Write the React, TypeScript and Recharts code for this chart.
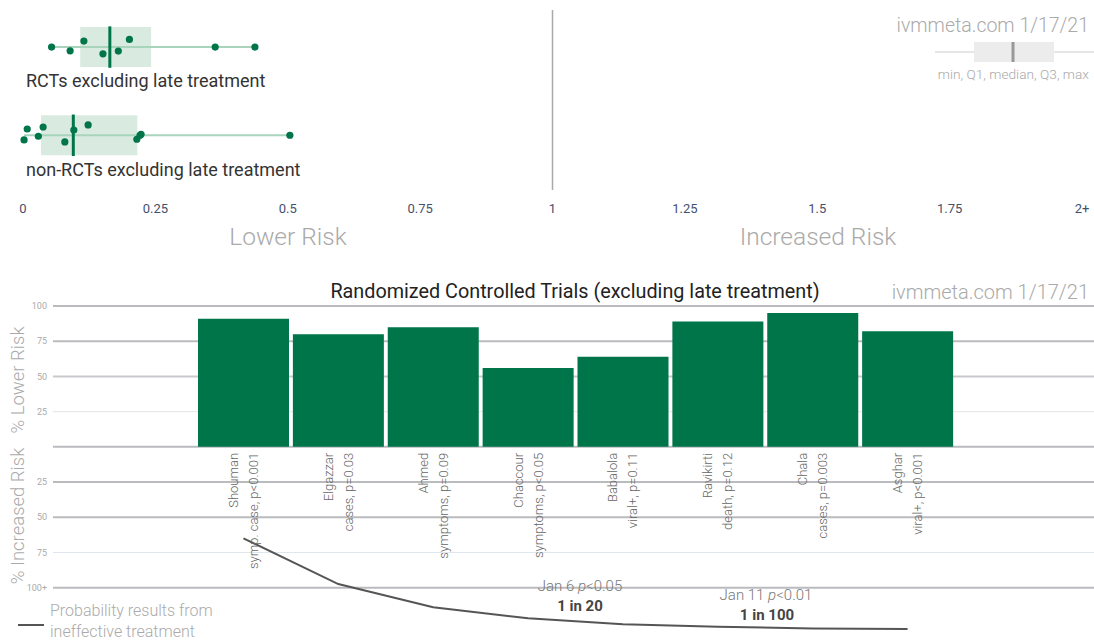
import {
  ScatterChart,
  Scatter,
  XAxis,
  YAxis,
  ReferenceArea,
  ReferenceLine,
  ComposedChart,
  Bar,
  Line,
  LabelList,
  CartesianGrid,
} from "recharts";

// top: distribution of results (relative risk)
const riskTicks = [0, 0.25, 0.5, 0.75, 1, 1.25, 1.5, 1.75, 2];
const rctValues = [0.054, 0.089, 0.115, 0.151, 0.18, 0.201, 0.363, 0.438];
const rctOffsets = [0, -0.042, 0.068, -0.076, -0.045, 0.087, 0, 0];
const nonRctValues = [0.008, 0.002, 0.029, 0.038, 0.079, 0.096, 0.123, 0.215, 0.221, 0.223, 0.504];
const nonRctOffsets = [0.071, -0.053, -0.011, 0.094, -0.076, 0.06, 0.117, -0.045, 0, 0.011, 0];
// min, Q1, median, Q3, max
const rctBox = [0.054, 0.108, 0.164, 0.242, 0.438];
const nonRctBox = [0.002, 0.034, 0.095, 0.216, 0.504];

// bottom: RCTs
const studies = ["Shouman", "Elgazzar", "Ahmed", "Chaccour", "Babalola", "Ravikirti", "Chala", "Asghar"];
const outcomes = [
  "symp. case, p<0.001",
  "cases, p=0.03",
  "symptoms, p=0.09",
  "symptoms, p<0.05",
  "viral+, p=0.11",
  "death, p=0.12",
  "cases, p=0.003",
  "viral+, p<0.001",
];
const lowerRisk = [91, 80, 85, 56, 64, 89, 95, 82];
const ineffectiveProb = [-65, -97.4, -113.9, -121.7, -125.9, -127.8, -128.9, -129.4];
const riskGridValues = [100, 75, 50, 25, 0, -25, -50, -75, -100];
const riskAxisTicks = [100, 75, 50, 25, -25, -50, -75, -100];

const GREEN = "#00754a";
const rctPoints = rctValues.map((v, i) => ({ x: v, y: 2 + rctOffsets[i] }));
const nonRctPoints = nonRctValues.map((v, i) => ({ x: v, y: 1 + nonRctOffsets[i] }));
const trialData = studies.map((name, i) => ({
  name,
  outcome: outcomes[i],
  value: lowerRisk[i],
  prob: ineffectiveProb[i],
}));

const gridColor = (v: number) => {
  if (v === 25) return "#e9e9e9";
  if (v === -75) return "#dfe6ef";
  if (v === 50) return "#c9c9cd";
  return "#babbbf";
};

function Txt({ x, y, size, color, children, anchor = "middle", weight = 400, rotate = false }: any) {
  const tx = anchor === "middle" ? "-50%" : anchor === "end" ? "-100%" : "0";
  return (
    <div
      style={{
        position: "absolute",
        left: x,
        top: y,
        fontSize: size,
        color,
        fontWeight: weight,
        lineHeight: 1,
        whiteSpace: "nowrap",
        transform: rotate ? "translate(-50%,-50%) rotate(-90deg)" : `translate(${tx},-50%)`,
      }}
    >
      {children}
    </div>
  );
}

const dot = (p: any) => <circle cx={p.cx} cy={p.cy} r={3.6} fill={GREEN} />;

const renderStudyLabel = (props: any) => {
  const vb = props.viewBox ?? props;
  const { x, y, width, height } = vb;
  const i = props.index;
  const cx = x + width / 2;
  const top = y + height + 6;
  return (
    <g key={`lbl-${i}`} fontSize={13} fill="#666" fontWeight={300}>
      <text x={cx - 10} y={top} textAnchor="end" dominantBaseline="central" transform={`rotate(-90 ${cx - 10} ${top})`}>
        {studies[i]}
      </text>
      <text x={cx + 10} y={top} textAnchor="end" dominantBaseline="central" transform={`rotate(-90 ${cx + 10} ${top})`}>
        {outcomes[i]}
      </text>
    </g>
  );
};

export default function App() {
  const boxes = [
    { box: rctBox, row: 2 },
    { box: nonRctBox, row: 1 },
  ];
  return (
    <div
      style={{
        position: "absolute",
        left: 0,
        top: 0,
        width: 1094,
        height: 641,
        background: "#fff",
        fontFamily: "Roboto, sans-serif",
        overflow: "hidden",
      }}
    >
      <div style={{ position: "absolute", left: 0, top: 0 }}>
        <ScatterChart width={1094} height={250} margin={{ top: 3, right: 12, bottom: 23, left: 23 }}>
          <XAxis
            type="number"
            dataKey="x"
            domain={[0, 2]}
            ticks={riskTicks}
            tickFormatter={(v: number) => (v === 2 ? "2+" : String(v))}
            axisLine={false}
            tickLine={false}
            tickSize={5}
            height={30}
            tick={{ fill: "#44516e", fontSize: 13 }}
            interval={0}
          />
          <YAxis type="number" dataKey="y" domain={[0.3, 2.5]} hide width={0} />
          {boxes.map(({ box, row }) => (
            <ReferenceArea
              key={`a${row}`}
              x1={box[1]}
              x2={box[3]}
              y1={row - 0.227}
              y2={row + 0.227}
              fill="#d9ebe0"
              fillOpacity={1}
              stroke="none"
            />
          ))}
          {boxes.map(({ box, row }) => (
            <ReferenceLine
              key={`w${row}`}
              segment={[
                { x: box[0], y: row },
                { x: box[4], y: row },
              ]}
              stroke="#a9d4bc"
              strokeWidth={2}
            />
          ))}
          {boxes.map(({ box, row }) => (
            <ReferenceLine
              key={`m${row}`}
              segment={[
                { x: box[2], y: row - 0.235 },
                { x: box[2], y: row + 0.235 },
              ]}
              stroke={GREEN}
              strokeWidth={3}
            />
          ))}
          <ReferenceLine
            segment={[
              { x: 1, y: 0.38 },
              { x: 1, y: 2.42 },
            ]}
            stroke="#a8a8a8"
            strokeWidth={1.5}
          />
          <Scatter data={rctPoints} shape={dot} isAnimationActive={false} />
          <Scatter data={nonRctPoints} shape={dot} isAnimationActive={false} />
        </ScatterChart>
      </div>

      <Txt x={26} y={81} size={18} color="#333" anchor="start">RCTs excluding late treatment</Txt>
      <Txt x={26} y={170} size={18} color="#333" anchor="start">non-RCTs excluding late treatment</Txt>
      <Txt x={288} y={237} size={24.5} color="#aaa" weight={300}>Lower Risk</Txt>
      <Txt x={818} y={237} size={24.5} color="#aaa" weight={300}>Increased Risk</Txt>
      <Txt x={1089} y={26} size={19.5} color="#aaa" anchor="end" weight={300}>ivmmeta.com 1/17/21</Txt>
      <svg style={{ position: "absolute", left: 930, top: 38 }} width={164} height={28}>
        <line x1={5} x2={164} y1={14} y2={14} stroke="#ccc" strokeWidth={1} />
        <rect x={44} y={4} width={80} height={20} fill="#ececec" />
        <line x1={83} x2={83} y1={4} y2={24} stroke="#999" strokeWidth={3} />
      </svg>
      <Txt x={1089} y={75} size={13.7} color="#aaa" anchor="end" weight={300}>min, Q1, median, Q3, max</Txt>

      <Txt x={575} y={292} size={19.8} color="#222">Randomized Controlled Trials (excluding late treatment)</Txt>
      <Txt x={1089} y={292} size={20} color="#aaa" anchor="end" weight={300}>ivmmeta.com 1/17/21</Txt>
      <Txt x={18} y={380} size={18.5} color="#aaa" weight={300} rotate>% Lower Risk</Txt>
      <Txt x={18} y={516} size={18.5} color="#aaa" weight={300} rotate>% Increased Risk</Txt>

      <div style={{ position: "absolute", left: 0, top: 276 }}>
        <ComposedChart
          width={1094}
          height={365}
          data={trialData}
          margin={{ top: 30, right: 0, bottom: 4, left: 0 }}
          barCategoryGap={2}
        >
          <CartesianGrid
            vertical={false}
            horizontalValues={riskGridValues}
            horizontal={(p: any) => {
              const v = riskGridValues[p.index];
              return (
                <line
                  key={`g${p.index}`}
                  x1={p.x1}
                  x2={p.x2}
                  y1={p.y1}
                  y2={p.y2}
                  stroke={gridColor(v)}
                  strokeWidth={v === 25 || v === -75 ? 1.2 : 2}
                />
              );
            }}
          />
          <XAxis dataKey="name" hide padding={{ left: 143, right: 139 }} />
          <YAxis
            width={53}
            domain={[-135, 100]}
            ticks={riskAxisTicks}
            allowDataOverflow
            axisLine={false}
            tickLine={false}
            tickSize={4}
            tickFormatter={(v: number) => (v === -100 ? "100+" : String(Math.abs(v)))}
            tick={{ fill: "#aaa", fontSize: 9 }}
          />
          <Bar dataKey="value" fill={GREEN} isAnimationActive={false}>
            <LabelList dataKey="name" content={renderStudyLabel} />
          </Bar>
          <Line
            dataKey="prob"
            type="linear"
            stroke="#555"
            strokeWidth={2}
            dot={false}
            activeDot={false}
            isAnimationActive={false}
          />
        </ComposedChart>
      </div>

      <Txt x={580} y={586} size={15} color="#777" weight={300}>
        Jan 6 <i>p</i>&lt;0.05
      </Txt>
      <Txt x={580} y={606} size={15} color="#444" weight={700}>1 in 20</Txt>
      <Txt x={766} y={595} size={15} color="#777" weight={300}>
        Jan 11 <i>p</i>&lt;0.01
      </Txt>
      <Txt x={767} y={615} size={15} color="#444" weight={700}>1 in 100</Txt>
      <div style={{ position: "absolute", left: 18, top: 624, width: 26, height: 1.5, background: "#555" }} />
      <Txt x={50} y={611} size={16} color="#aaa" anchor="start" weight={300}>Probability results from</Txt>
      <Txt x={50} y={632} size={16} color="#aaa" anchor="start" weight={300}>ineffective treatment</Txt>
    </div>
  );
}
